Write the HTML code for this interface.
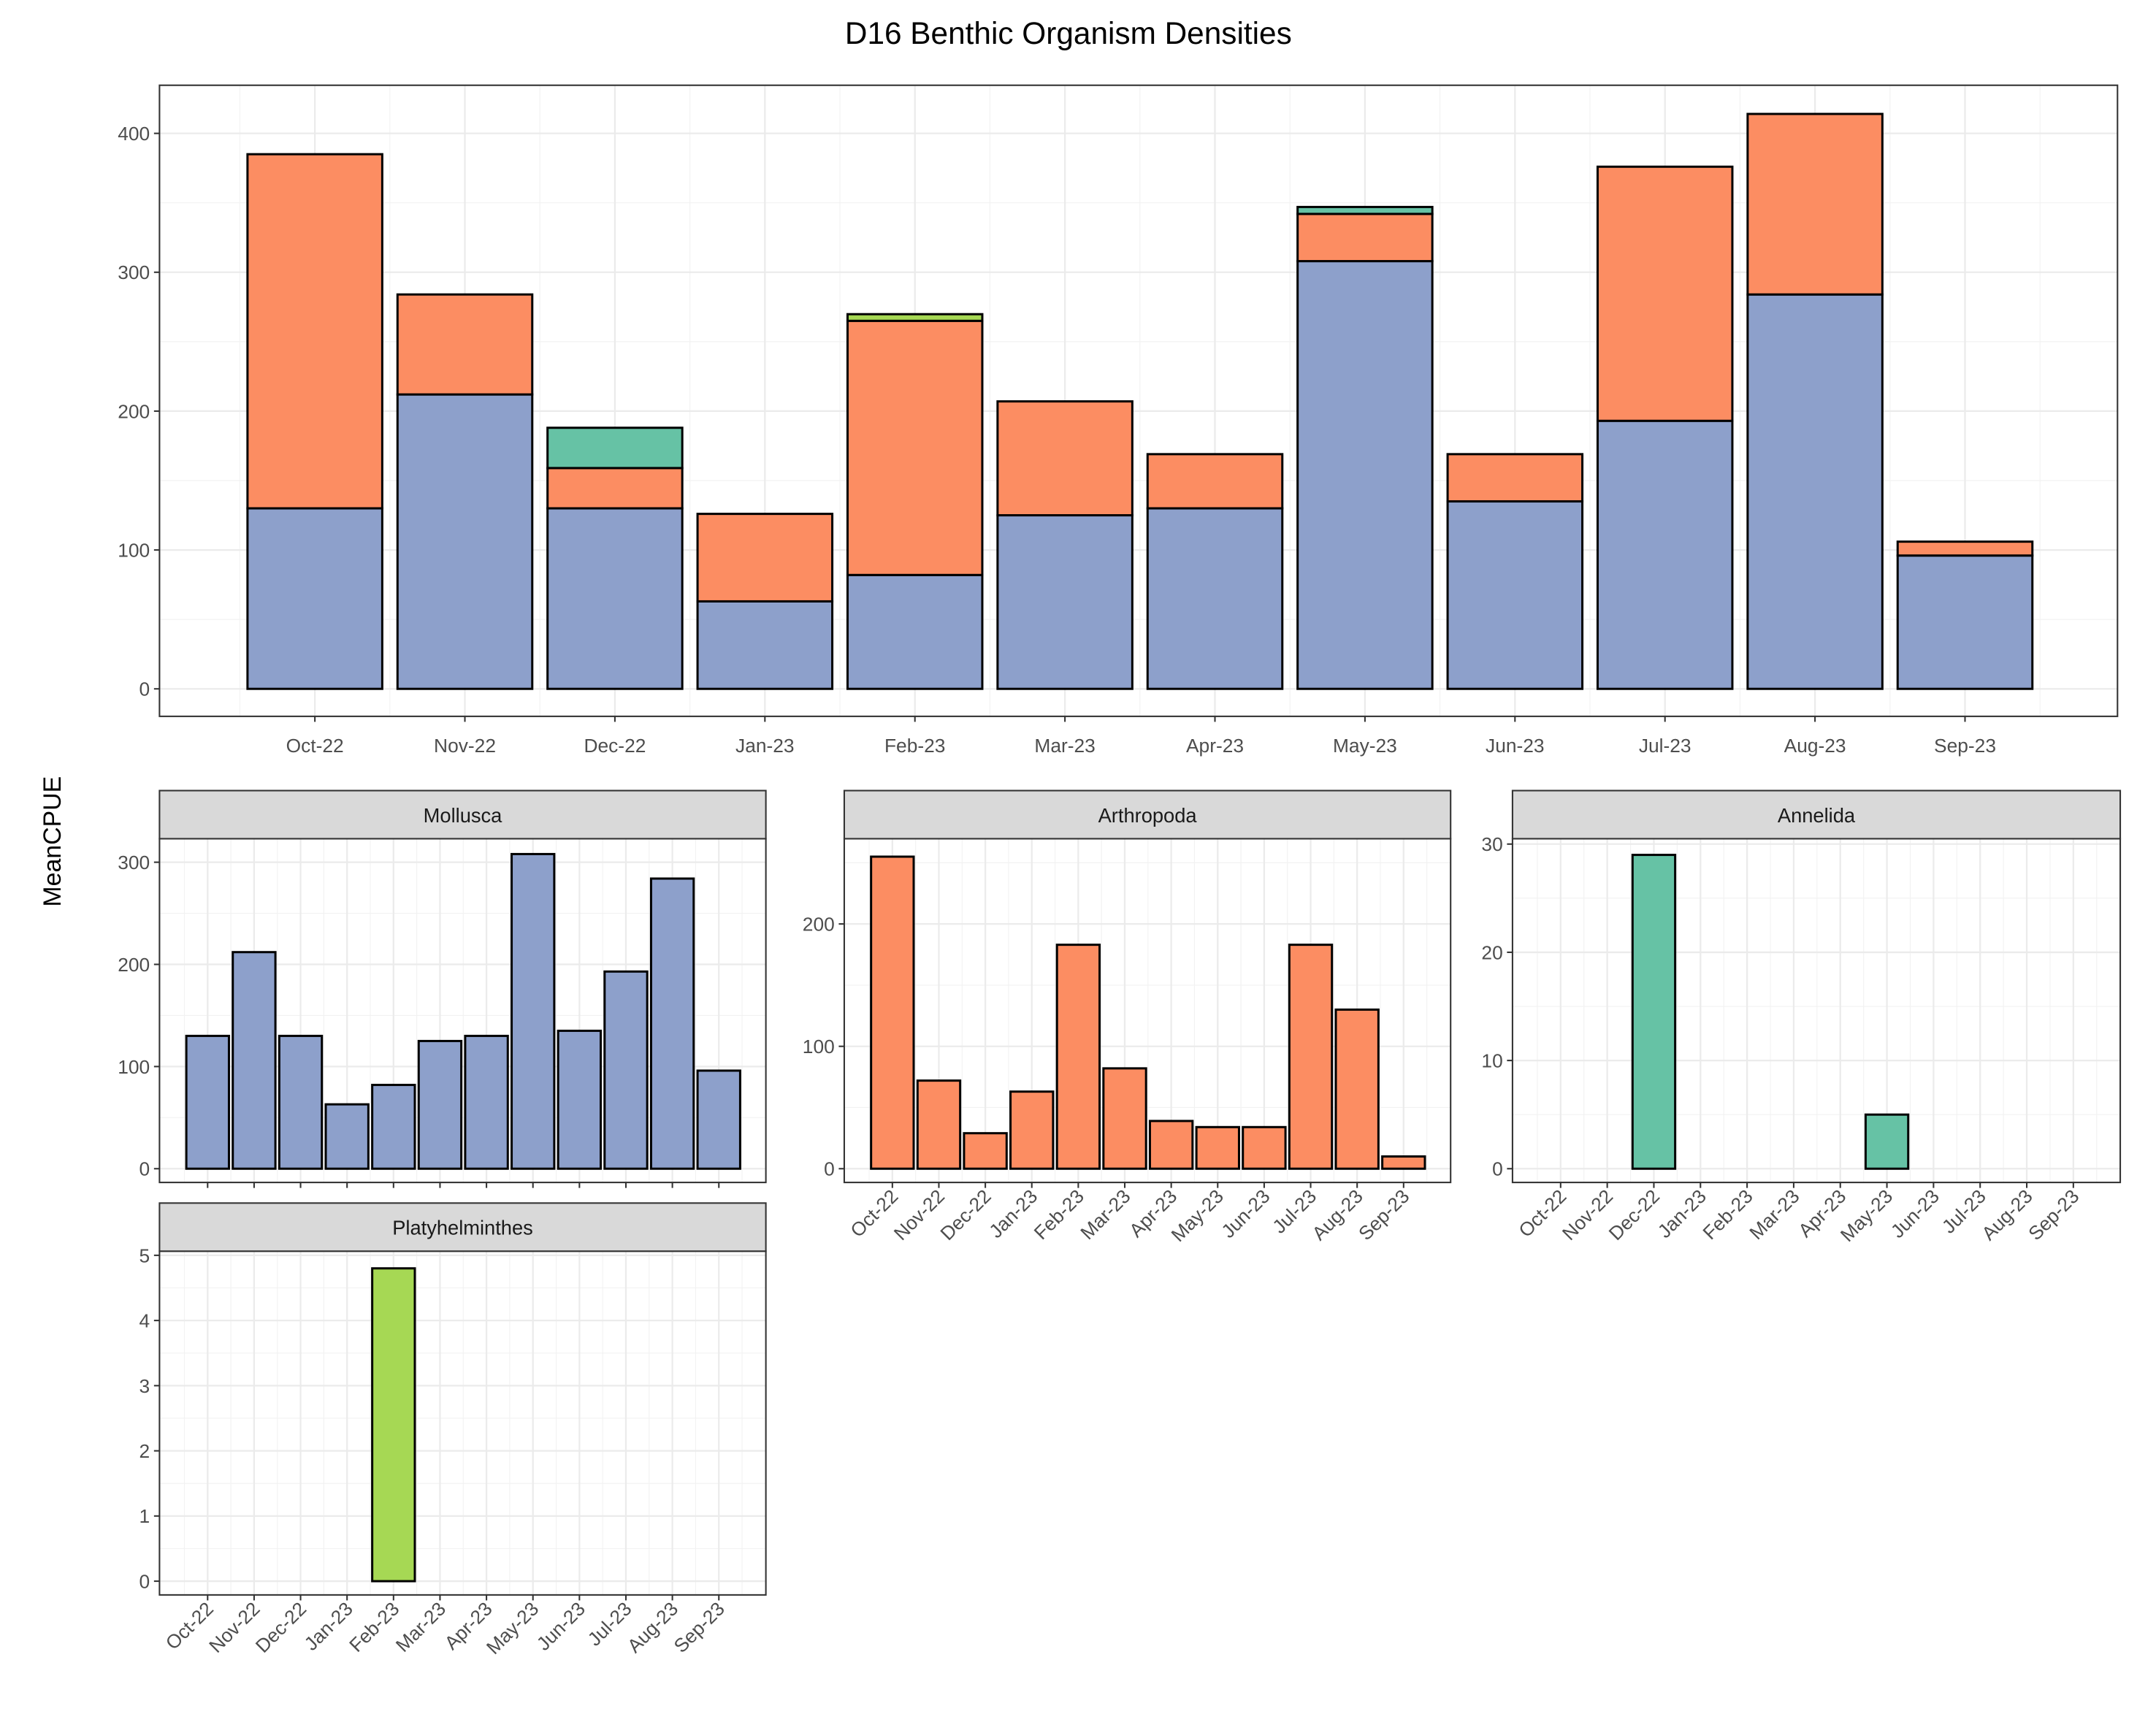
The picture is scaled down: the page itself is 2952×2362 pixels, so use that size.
<!DOCTYPE html>
<html><head><meta charset="utf-8"><style>html,body{margin:0;padding:0;background:#fff}svg{display:block}</style></head>
<body>
<svg id="chart" xmlns="http://www.w3.org/2000/svg" width="2952" height="2362" viewBox="0 0 1568 1254.6" font-family="Liberation Sans, sans-serif">
<rect width="1568" height="1254.6" fill="#fff"/>
<text x="777" y="32" text-anchor="middle" font-size="22.5" fill="#000">D16 Benthic Organism Densities</text>
<text transform="translate(44,612) rotate(-90)" text-anchor="middle" font-size="18" fill="#000">MeanCPUE</text>
</svg>
<script>
const months = ["Oct-22","Nov-22","Dec-22","Jan-23","Feb-23","Mar-23","Apr-23","May-23","Jun-23","Jul-23","Aug-23","Sep-23"];
const mollusca = [130,212,130,63,82,125,130,308,135,193,284,96];
const arthropoda = [255,72,29,63,183,82,39,34,34,183,130,10];
const annelida = [0,0,29,0,0,0,0,5,0,0,0,0];
const platyhelminthes = [0,0,0,0,4.8,0,0,0,0,0,0,0];
const topTicks = [0,100,200,300,400];
const mollTicks = [0,100,200,300];
const arthTicks = [0,100,200];
const annTicks = [0,10,20,30];
const platTicks = [0,1,2,3,4,5];
const colors = {mollusca:"#8DA0CB", arthropoda:"#FC8D62", annelida:"#66C2A5", platy:"#A6D854"};

const svg = document.getElementById('chart');
const NS = "http://www.w3.org/2000/svg";
function mk(tag, attrs, parent){ const e=document.createElementNS(NS,tag); for(const k in attrs) e.setAttribute(k,attrs[k]); (parent||svg).appendChild(e); return e; }

function panel(opt){
  const g = mk('g',{});
  
  
  const {x0,x1,y0,y1,c0,step,bw,zeroY,ppu,ticks} = opt;
  const xs = i => c0 + step*i;
  const ys = v => zeroY - v*ppu;
  mk('rect',{x:x0,y:y0,width:x1-x0,height:y1-y0,fill:'#fff'},g);
  for(let k=0;k<ticks.length;k++){
    const mv = ticks[k]+(ticks[1]-ticks[0])/2; const yy=ys(mv);
    if(yy>y0 && yy<y1) mk('line',{x1:x0,x2:x1,y1:yy,y2:yy,stroke:'#f2f2f2','stroke-width':0.6},g);
    const yb=ys(ticks[0]-(ticks[1]-ticks[0])/2); if(k==0&&yb<y1) mk('line',{x1:x0,x2:x1,y1:yb,y2:yb,stroke:'#f2f2f2','stroke-width':0.6},g);
  }
  for(let i=-1;i<months.length;i++){ const xx=xs(i)+step/2; if(xx>x0&&xx<x1) mk('line',{x1:xx,x2:xx,y1:y0,y2:y1,stroke:'#f2f2f2','stroke-width':0.6},g); }
  ticks.forEach(t=>mk('line',{x1:x0,x2:x1,y1:ys(t),y2:ys(t),stroke:'#ebebeb','stroke-width':1.2},g));
  months.forEach((m,i)=>mk('line',{x1:xs(i),x2:xs(i),y1:y0,y2:y1,stroke:'#ebebeb','stroke-width':1.2},g));
  months.forEach((m,i)=>{
    let base=0;
    opt.series.forEach(s=>{
      const v=s.vals[i]; if(v<=0) return;
      const r=mk('rect',{x:xs(i)-bw/2,y:ys(base+v),width:bw,height:v*ppu,fill:s.color,stroke:'#000','stroke-width':1.6},g);
      
      
      base+=v;
    });
  });
  mk('rect',{x:x0,y:y0,width:x1-x0,height:y1-y0,fill:'none',stroke:'#333','stroke-width':1.1},g);
  ticks.forEach(t=>{
    mk('line',{x1:x0-4,x2:x0,y1:ys(t),y2:ys(t),stroke:'#333','stroke-width':1.1},g);
    const tx=mk('text',{x:x0-7,y:ys(t)+5,'text-anchor':'end','font-size':14,fill:'#4d4d4d'},g); tx.textContent=t;
  });
  if(opt.xlab){
    months.forEach((m,i)=>{
      mk('line',{x1:xs(i),x2:xs(i),y1:y1,y2:y1+4,stroke:'#333','stroke-width':1.1},g);
      if(opt.rot){
        const tx=mk('text',{transform:`translate(${xs(i)+5},${y1+11}) rotate(-45)`,'text-anchor':'end','font-size':14,fill:'#4d4d4d'},g); tx.textContent=m;
      } else {
        const tx=mk('text',{x:xs(i),y:y1+26,'text-anchor':'middle','font-size':14,fill:'#4d4d4d'},g); tx.textContent=m;
      }
    });
  } else {
    months.forEach((m,i)=>mk('line',{x1:xs(i),x2:xs(i),y1:y1,y2:y1+4,stroke:'#333','stroke-width':1.1},g));
  }
  if(opt.strip){
    const sr=mk('rect',{x:x0,y:y0-35,width:x1-x0,height:35,fill:'#d9d9d9',stroke:'#333','stroke-width':1.1},g);
    
    
    const st=mk('text',{x:(x0+x1)/2,y:y0-12,'text-anchor':'middle','font-size':14.5,fill:'#1a1a1a'},g); st.textContent=opt.strip;
  }
}

panel({name:'top-stacked-panel',x0:116,x1:1540,y0:62,y1:521,c0:229,step:109.1,bw:98,zeroY:501,ppu:1.01,ticks:topTicks,xlab:true,rot:false,
  series:[{key:'mollusca',vals:mollusca,color:colors.mollusca},{key:'arthropoda',vals:arthropoda,color:colors.arthropoda},{key:'annelida',vals:annelida,color:colors.annelida},{key:'platyhelminthes',vals:platyhelminthes,color:colors.platy}]});
panel({name:'mollusca-panel',x0:116,x1:557,y0:610,y1:860,c0:151,step:33.8,bw:31,zeroY:850,ppu:0.743,ticks:mollTicks,xlab:false,strip:'Mollusca',
  series:[{key:'mollusca',vals:mollusca,color:colors.mollusca}]});
panel({name:'arthropoda-panel',x0:614,x1:1055,y0:610,y1:860,c0:649,step:33.8,bw:31,zeroY:850,ppu:0.89,ticks:arthTicks,xlab:true,rot:true,strip:'Arthropoda',
  series:[{key:'arthropoda',vals:arthropoda,color:colors.arthropoda}]});
panel({name:'annelida-panel',x0:1100,x1:1542,y0:610,y1:860,c0:1135,step:33.9,bw:31,zeroY:850,ppu:7.87,ticks:annTicks,xlab:true,rot:true,strip:'Annelida',
  series:[{key:'annelida',vals:annelida,color:colors.annelida}]});
panel({name:'platyhelminthes-panel',x0:116,x1:557,y0:910,y1:1160,c0:151,step:33.8,bw:31,zeroY:1150,ppu:47.4,ticks:platTicks,xlab:true,rot:true,strip:'Platyhelminthes',
  series:[{key:'platyhelminthes',vals:platyhelminthes,color:colors.platy}]});
</script>
</body></html>
